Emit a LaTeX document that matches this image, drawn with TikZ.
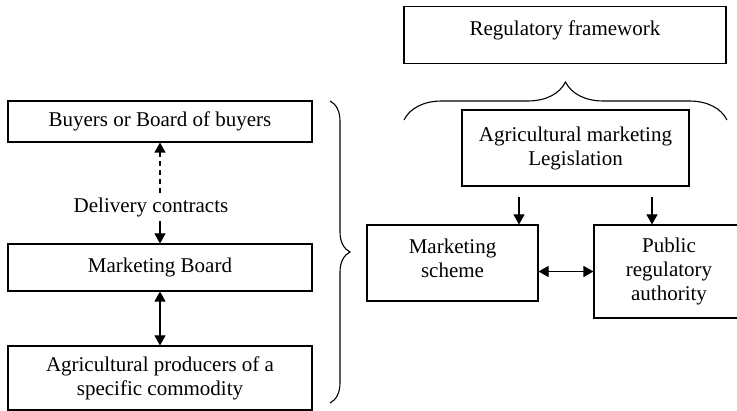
\documentclass[tikz,border=0pt]{standalone}
\usepackage{fontspec}
\setmainfont{Liberation Serif}
\usetikzlibrary{arrows.meta,decorations.pathreplacing}
\begin{document}
\begin{tikzpicture}[x=1pt,y=1pt,
  line width=1.1pt,
  txt/.style={font=\fontsize{21}{24}\selectfont, align=center},
  box/.style={draw, rectangle, txt, inner sep=0pt},
  arr/.style={-{Triangle[length=10pt,width=11pt]}},
  darr/.style={{Triangle[length=10pt,width=11pt]}-{Triangle[length=10pt,width=11pt]}},
  brc/.style={decorate, decoration={brace, amplitude=#1}}
]
\clip (0,0) rectangle (737,-411);
% left column
\node[box, minimum width=304pt, minimum height=41pt] (buyers) at (160,-121.5) {Buyers or Board of buyers};
\node[box, minimum width=304pt, minimum height=47pt] (mb) at (160,-267.5) {Marketing Board};
\node[box, minimum width=304pt, minimum height=64pt] (prod) at (160,-378) {Agricultural producers of a\\specific commodity};
\node[txt, inner sep=4pt] (dc) at (151,-207) {Delivery contracts};
\draw[arr, dash pattern=on 5pt off 4pt] (dc.north -| buyers.south) -- (buyers.south);
\draw[arr] (dc.south -| mb.north) -- (mb.north);
\draw[darr] (mb.south) -- (prod.north);
% left brace
\coordinate (lb1) at (330,-101);
\coordinate (lb2) at (330,-403);
\draw[brc=20pt] (lb1) -- (lb2);
% right side
\node[draw, rectangle, minimum width=322pt, minimum height=57pt] (reg) at (565,-35) {};
\node[txt] (regtxt) at (565,-30) {Regulatory framework};
\coordinate (rb1) at (404,-120);
\coordinate (rb2) at (727,-120);
\draw[brc=38pt] (rb1) -- (rb2);
\node[box, minimum width=227pt, minimum height=76pt] (leg) at (575.5,-148) {Agricultural marketing\\Legislation};
\node[draw, rectangle, minimum width=171pt, minimum height=76pt] (scheme) at (452.5,-263) {};
\node[txt] (schemetxt) at (452.5,-258) {Marketing\\scheme};
\node[box, minimum width=150pt, minimum height=93pt] (pub) at (669,-271.5) {Public\\regulatory\\authority};
\coordinate (a1) at (519,-197);
\coordinate (a2) at (652,-197);
\draw[arr] (a1) -- (a1 |- scheme.north);
\draw[arr] (a2) -- (a2 |- pub.north);
\draw[darr] (scheme.east |- pub.west) -- (pub.west);
\end{tikzpicture}
\end{document}
